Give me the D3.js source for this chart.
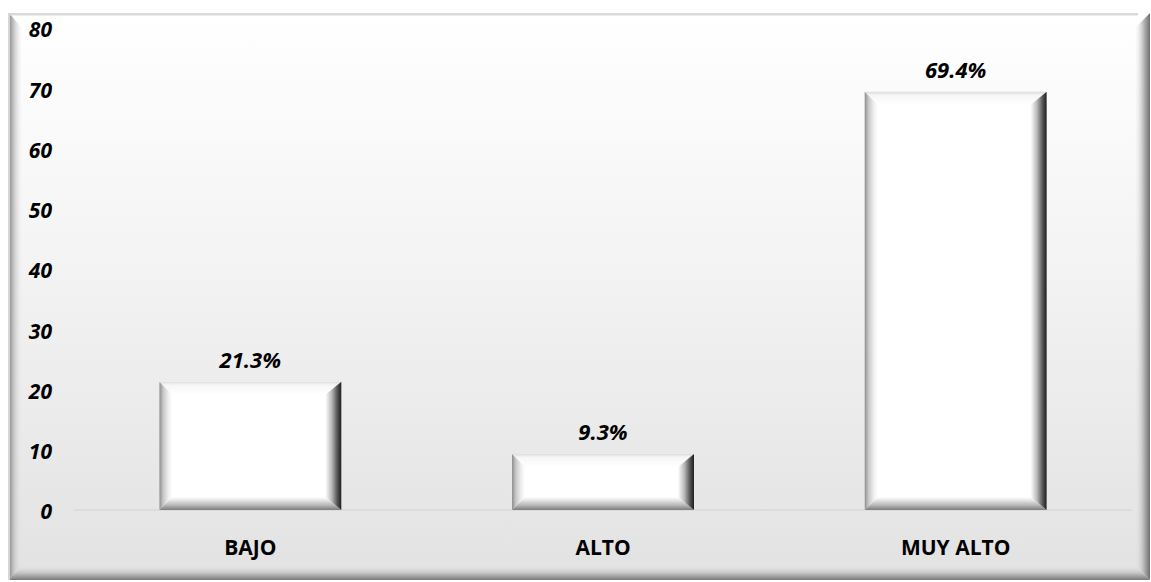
<!DOCTYPE html>
<html>
<head>
<meta charset="utf-8">
<script src="https://cdn.jsdelivr.net/npm/d3@7"></script>
<style>
  html, body { margin: 0; padding: 0; background: #ffffff; }
  svg { display: block; }
</style>
</head>
<body>
<svg id="chart" width="1151" height="582"></svg>
<script>
// Chart data
const categories = ["BAJO", "ALTO", "MUY ALTO"];
const values = [21.3, 9.3, 69.4];
const valueLabels = ["21.3%", "9.3%", "69.4%"];
const yTicks = [0, 10, 20, 30, 40, 50, 60, 70, 80];

const W = 1151, H = 582;
const frame = { x0: 9, y0: 13, x1: 1150, y1: 580 };
const plot = { left: 74, right: 1132, top: 28, bottom: 510 };
const FONT = "'Open Sans', 'DejaVu Sans', sans-serif";

const svg = d3.select("#chart");
const defs = svg.append("defs");

function linGrad(id, x1, y1, x2, y2, stops) {
  const g = defs.append("linearGradient").attr("id", id)
    .attr("x1", x1).attr("y1", y1).attr("x2", x2).attr("y2", y2);
  stops.forEach(s => g.append("stop").attr("offset", s[0])
    .attr("stop-color", s[1]).attr("stop-opacity", s[2] == null ? 1 : s[2]));
}

// Chart area background: white fading to light grey
linGrad("bg", 0, 0, 0, 1, [[0, "#ffffff"], [0.35, "#f6f6f6"], [1, "#e2e2e2"]]);
// Frame bevels
linGrad("fLeft", 0, 0, 1, 0, [[0, "#8c8c8c"], [0.35, "#c4c4c4"], [1, "#e8e8e8", 0]]);
linGrad("fRight", 1, 0, 0, 0, [[0, "#6e6e6e"], [0.4, "#b4b4b4"], [1, "#e8e8e8", 0]]);
linGrad("fBottom", 0, 1, 0, 0, [[0, "#7a7a7a"], [0.45, "#c2c2c2"], [1, "#e6e6e6", 0]]);
// Bar bevels
linGrad("bLeft", 0, 0, 1, 0, [[0, "#8e8e8e"], [0.3, "#c8c8c8"], [0.7, "#efefef"], [1, "#ffffff"]]);
linGrad("bRight", 1, 0, 0, 0, [[0, "#1e1e1e"], [0.25, "#555555"], [0.6, "#b8b8b8"], [1, "#ffffff"]]);
linGrad("bBottom", 0, 1, 0, 0, [[0, "#7c7c7c"], [0.35, "#b4b4b4"], [0.75, "#e6e6e6"], [1, "#ffffff"]]);
linGrad("bTop", 0, 0, 0, 1, [[0, "#dcdcdc"], [0.25, "#f6f6f6"], [1, "#ffffff"]]);

// Frame
svg.append("rect")
  .attr("x", frame.x0).attr("y", frame.y0)
  .attr("width", frame.x1 - frame.x0).attr("height", frame.y1 - frame.y0)
  .attr("fill", "url(#bg)");

const fb = 15;
const poly = pts => pts.map(p => p.join(",")).join(" ");
svg.append("polygon").attr("fill", "url(#fLeft)")
  .attr("points", poly([[frame.x0, frame.y0], [frame.x0 + fb - 2, frame.y0 + fb], [frame.x0 + fb - 2, frame.y1 - fb], [frame.x0, frame.y1]]));
svg.append("polygon").attr("fill", "url(#fRight)")
  .attr("points", poly([[frame.x1, frame.y0], [frame.x1, frame.y1], [frame.x1 - fb, frame.y1 - fb], [frame.x1 - fb, frame.y0 + fb]]));
svg.append("polygon").attr("fill", "url(#fBottom)")
  .attr("points", poly([[frame.x0, frame.y1], [frame.x0 + fb - 2, frame.y1 - fb], [frame.x1 - fb, frame.y1 - fb], [frame.x1, frame.y1]]));
svg.append("rect").attr("x", frame.x0).attr("y", frame.y0)
  .attr("width", frame.x1 - frame.x0 - 12).attr("height", 2.5).attr("fill", "#d9d9d9");
svg.append("rect").attr("x", frame.x0 - 1).attr("y", frame.y0)
  .attr("width", 2).attr("height", frame.y1 - frame.y0).attr("fill", "#d6d6d6");

// Scales
const x = d3.scaleBand().domain(categories).range([plot.left, plot.right]).paddingInner(0.484).paddingOuter(0.242);
const y = d3.scaleLinear().domain([0, 80]).range([plot.bottom, plot.top]);

// Y axis labels
const yAxis = d3.axisLeft(y).tickValues(yTicks).tickSize(0).tickPadding(0);
const yG = svg.append("g").attr("transform", "translate(52,0)").call(yAxis);
yG.select(".domain").remove();
yG.selectAll("text")
  .attr("font-family", FONT)
  .attr("font-size", 21).attr("font-weight", "bold").attr("font-style", "italic")
  .attr("fill", "#000").attr("dy", "0.42em");

// Baseline
svg.append("line")
  .attr("x1", plot.left).attr("x2", plot.right)
  .attr("y1", y(0)).attr("y2", y(0))
  .attr("stroke", "#d9d9d9").attr("stroke-width", 1.5);

// Bars with bevelled edges
const bars = svg.append("g").selectAll("g").data(categories.map((c, i) => ({ c, v: values[i], label: valueLabels[i] })))
  .join("g");

bars.each(function(d) {
  const g = d3.select(this);
  const x0 = x(d.c), x1 = x(d.c) + x.bandwidth();
  const y0 = y(d.v), y1 = y(0);
  const b = Math.min(13, (y1 - y0) / 2);
  const br = Math.min(16, (y1 - y0) / 2);
  g.append("rect").attr("x", x0).attr("y", y0).attr("width", x1 - x0).attr("height", y1 - y0).attr("fill", "#ffffff");
  g.append("polygon").attr("fill", "url(#bTop)")
    .attr("points", poly([[x0, y0], [x1, y0], [x1 - br, y0 + b], [x0 + b, y0 + b]]));
  g.append("polygon").attr("fill", "url(#bLeft)")
    .attr("points", poly([[x0, y0], [x0 + b, y0 + b], [x0 + b, y1 - b], [x0, y1]]));
  g.append("polygon").attr("fill", "url(#bBottom)")
    .attr("points", poly([[x0, y1], [x0 + b, y1 - b], [x1 - br, y1 - b], [x1, y1]]));
  g.append("polygon").attr("fill", "url(#bRight)")
    .attr("points", poly([[x1, y0], [x1, y1], [x1 - br, y1 - b], [x1 - br, y0 + b]]));
});

// Value labels
bars.append("text")
  .attr("x", d => x(d.c) + x.bandwidth() / 2)
  .attr("y", d => y(d.v) - 14)
  .attr("text-anchor", "middle")
  .attr("font-family", FONT)
  .attr("font-size", 22).attr("font-weight", "bold").attr("font-style", "italic")
  .attr("fill", "#000")
  .text(d => d.label);

// Category labels
const xAxis = d3.axisBottom(x).tickSize(0).tickPadding(0);
const xG = svg.append("g").attr("transform", `translate(0,${plot.bottom + 45})`).call(xAxis);
xG.select(".domain").remove();
xG.selectAll("text")
  .attr("font-family", FONT)
  .attr("font-size", 21).attr("font-weight", "bold")
  .attr("fill", "#000").attr("dy", 0);
</script>
</body>
</html>
